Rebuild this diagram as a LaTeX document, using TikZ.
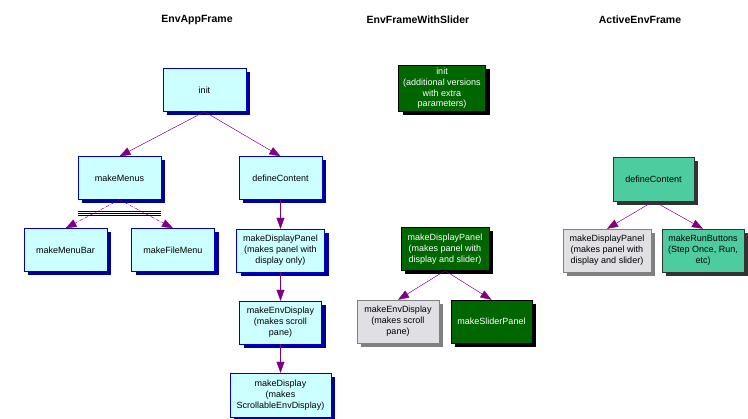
\documentclass[tikz,border=0pt]{standalone}
\usepackage{fontspec}
\setmainfont{Liberation Sans}
\usetikzlibrary{positioning,shadows,arrows.meta}
\definecolor{boxcyan}{RGB}{204,255,255}
\definecolor{boxblue}{RGB}{0,0,204}
\definecolor{shadowblue}{RGB}{0,0,150}
\definecolor{boxgreen}{RGB}{0,102,0}
\definecolor{boxgray}{RGB}{224,223,227}
\definecolor{boxteal}{RGB}{77,204,160}
\definecolor{linkpurple}{RGB}{128,0,128}

\begin{document}
\begin{tikzpicture}[x=1pt, y=-1pt,
    title/.style={font=\fontsize{10.5}{12}\selectfont\bfseries},
    method/.style={rectangle, draw=boxblue, fill=boxcyan, minimum width=83pt, minimum height=43pt, inner sep=0pt, align=center, font=\fontsize{9}{11}\selectfont, drop shadow={shadow xshift=4pt, shadow yshift=-4pt, opacity=1, fill=shadowblue}},
    slider/.style={method, draw=black, fill=boxgreen, text=white, drop shadow={shadow xshift=4pt, shadow yshift=-4pt, opacity=1, fill=black}},
    inherited/.style={method, draw=gray, fill=boxgray, drop shadow={shadow xshift=4pt, shadow yshift=-4pt, opacity=1, fill=gray}},
    active/.style={method, draw=black!80, fill=boxteal, drop shadow={shadow xshift=4pt, shadow yshift=-4pt, opacity=1, fill=black!80}},
    calls/.style={-{Triangle[length=11pt, width=8pt]}, draw=linkpurple, fill=linkpurple},
    node distance=72pt]
\useasboundingbox (0,0) rectangle (748,419);

% Class titles
\node[title] (appTitle) at (197,20) {EnvAppFrame};
\node[title] (sliderTitle) at (418,20) {EnvFrameWithSlider};
\node[title] (activeTitle) at (640,20) {ActiveEnvFrame};

% EnvAppFrame nodes
\node[method] (initA) at (204.5,90) {init};
\node[method] (menusA) at (119.5,178) {makeMenus};
\node[method] (contentA) at (280.5,178) {defineContent};
\node[method] (menuBarA) at (65.5,250) {makeMenuBar};
\node[method] (fileMenuA) at (173,250) {makeFileMenu};
\node[method, below of=contentA, minimum width=88pt, node distance=72.5pt] (panelA) {makeDisplayPanel\\(makes panel with\\display only)};
\node[method, below of=panelA, minimum width=82pt] (envDisplayA) {makeEnvDisplay\\(makes scroll\\pane)};
\node[method, below of=envDisplayA, minimum width=101pt, minimum height=44pt, node distance=72.5pt] (displayA) {makeDisplay\\(makes\\ScrollableEnvDisplay)};

% EnvFrameWithSlider nodes
\node[slider, minimum width=87pt, minimum height=46pt, font=\fontsize{9}{10.6}\selectfont] (initB) at (442,88.5) {init\\(additional versions\\with extra\\parameters)};
\node[slider, minimum width=88pt] (panelB) at (445,249) {makeDisplayPanel\\(makes panel with\\display and slider)};
\node[inherited, minimum width=82pt] (envDisplayB) at (398,321.5) {makeEnvDisplay\\(makes scroll\\pane)};
\node[slider, minimum width=81pt, right of=envDisplayB, node distance=93.5pt] (sliderPanelB) {makeSliderPanel};

% ActiveEnvFrame nodes
\node[active, minimum width=81pt, minimum height=44pt] (contentC) at (653.5,179) {defineContent};
\node[inherited, minimum width=88pt] (panelC) at (607,250.5) {makeDisplayPanel\\(makes panel with\\display and slider)};
\node[active, minimum width=82pt, right of=panelC, node distance=96pt] (runC) {makeRunButtons\\(Step Once, Run,\\etc)};

% Arrows
\draw[calls] (initA.south) -- (menusA.north);
\draw[calls] (initA.south) -- (contentA.north);
\draw[calls, dashed] (menusA.south) -- (menuBarA.north);
\draw[calls, dashed] (menusA.south) -- (fileMenuA.north);
\foreach \d in {12,14,16}
    \draw[black] ([yshift=-\d pt]menusA.south west) -- ([yshift=-\d pt]menusA.south east);
\draw[calls] (contentA) -- (panelA);
\draw[calls] (panelA) -- (envDisplayA);
\draw[calls] (envDisplayA) -- (displayA);
\draw[calls] (panelB.south) -- (envDisplayB.north);
\draw[calls] (panelB.south) -- (sliderPanelB.north);
\draw[calls] (contentC.south) -- (panelC.north);
\draw[calls] (contentC.south) -- (runC.north);

\end{tikzpicture}
\end{document}
